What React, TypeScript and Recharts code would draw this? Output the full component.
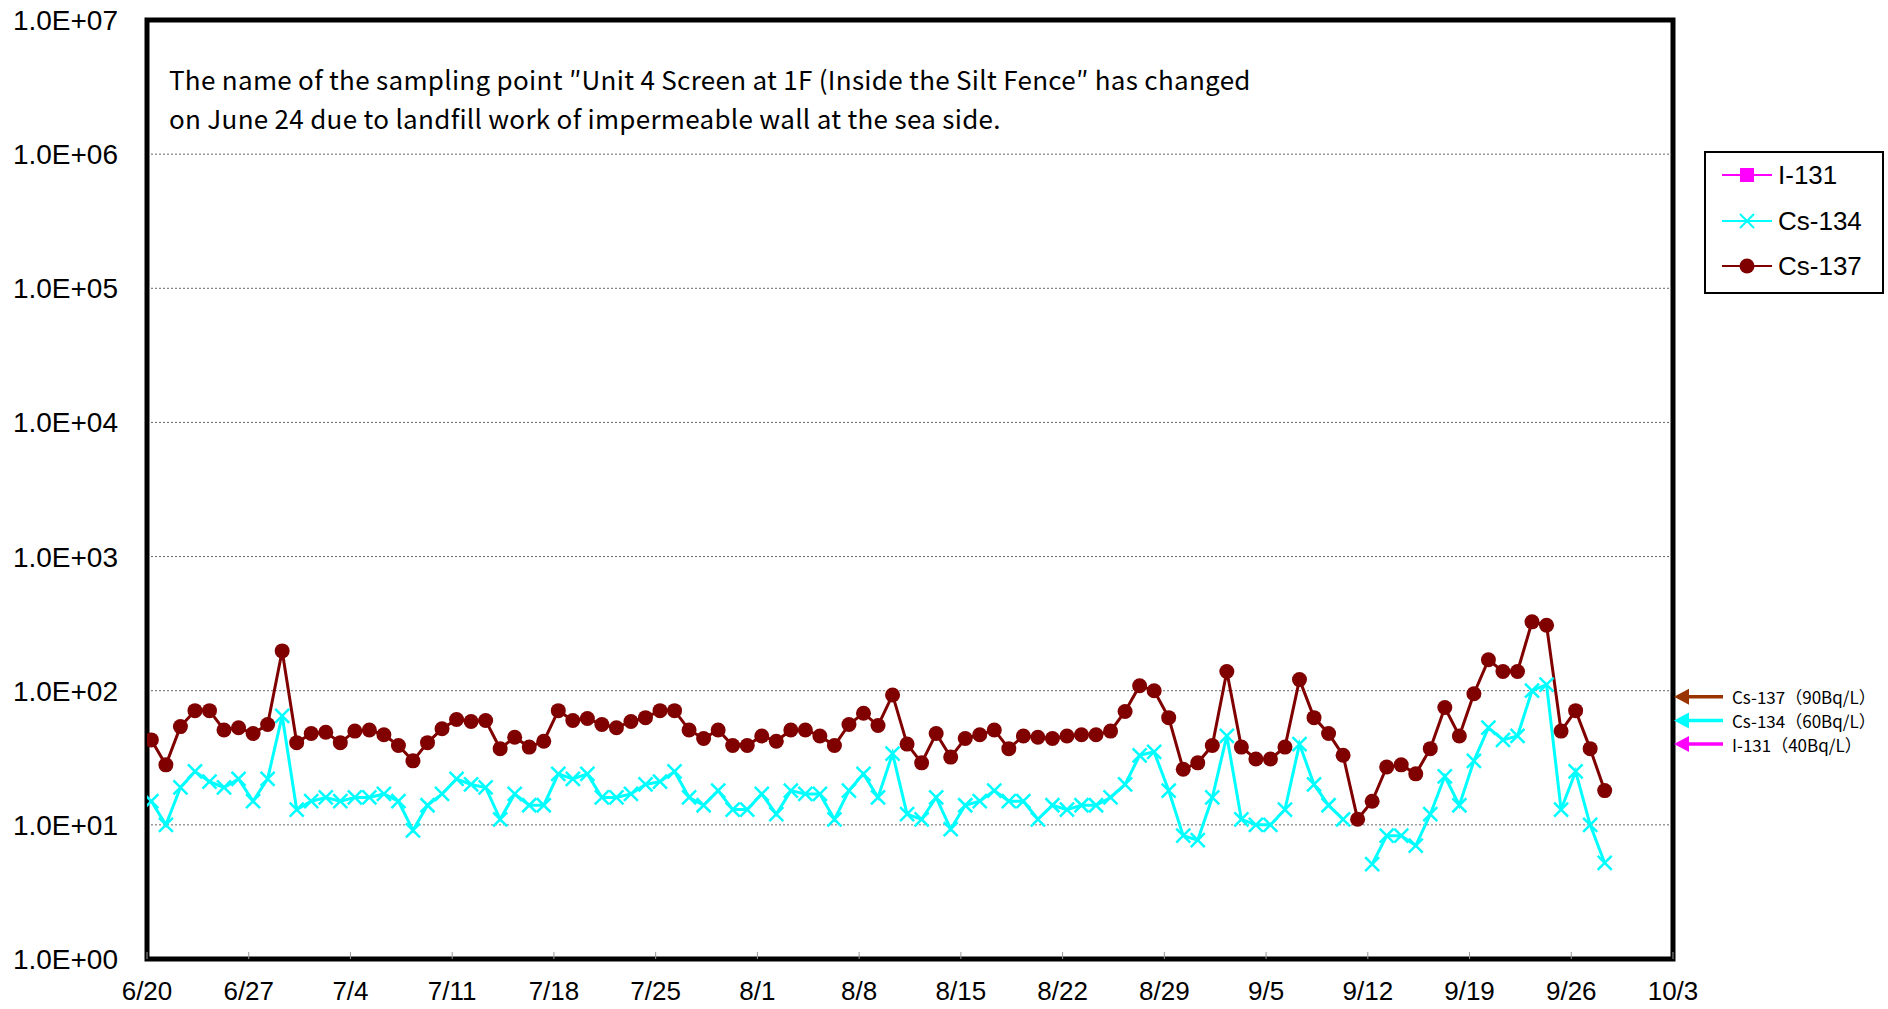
import React from "react";
import {
  LineChart,
  Line,
  XAxis,
  YAxis,
  CartesianGrid,
  ReferenceArea,
  ReferenceDot,
} from "recharts";

// daily samples from 6/20 (day 0), taken in the morning
const SAMPLE_OFFSET = 0.3;

const cs137 = [
  43, 28, 54, 71, 71, 51, 53, 48, 56, 198,
  41, 48, 49, 41, 50, 51, 47, 39, 30, 41,
  52, 61, 59, 60, 37, 45, 38, 42, 71, 60,
  62, 56, 53, 59, 63, 71, 71, 51, 44, 51,
  39, 39, 46, 42, 51, 51, 46, 39, 56, 68,
  55, 93, 40, 29, 48, 32, 44, 47, 51, 37,
  46, 45, 44, 46, 47, 47, 50, 70, 109, 100,
  63, 26, 29, 39, 139, 38, 31, 31, 38, 121,
  63, 48, 33, 11, 15, 27, 28, 24, 37, 75,
  46, 95, 170, 139, 139, 326, 308, 50, 71, 37,
  18,
];

const cs134: (number | null)[] = [
  15, 10, 19, 25, 21, 19, 22, 15, 22, 65,
  13, 15, 16, 15, 16, 16, 17, 15, 9.1, 14,
  17, 22, 20, 19, 11, 17, 14, 14, 24, 22,
  24, 16, 16, 17, 20, 21, 25, 16, 14, 18,
  13, 13, 17, 12, 18, 17, 17, 11, 18, 24,
  16, 34, 12, 11, 16, 9.3, 14, 15, 18, 15,
  15, 11, 14, 13, 14, 14, 16, 20, 33, 35,
  18, 8.3, 7.7, 16, 46, 11, 10, 10, 13, 40,
  20, 14, 11, null, 5.1, 8.3, 8.3, 7, 12, 23,
  14, 30, 53, 43, 46, 100, 111, 13, 25, 10,
  5.2,
];

// I-131 was not detected on any day
const i131: (number | null)[] = cs137.map(() => null);

const xTickDays = [0, 7, 14, 21, 28, 35, 42, 49, 56, 63, 70, 77, 84, 91, 98, 105];
const xTickLabels = [
  "6/20", "6/27", "7/4", "7/11", "7/18", "7/25", "8/1", "8/8",
  "8/15", "8/22", "8/29", "9/5", "9/12", "9/19", "9/26", "10/3",
];
const yTicks = [1, 10, 100, 1e3, 1e4, 1e5, 1e6, 1e7];

const limitNames = ["Cs-137", "Cs-134", "I-131"];
const limitValues = [90, 60, 40];
const limitColors = ["#993300", "#00FFFF", "#FF00FF"];

const data = cs137.map((v, i) => ({
  x: i + SAMPLE_OFFSET,
  i131: i131[i],
  cs134: cs134[i],
  cs137: v,
}));

const LABEL_FONT = "'Liberation Sans', Arial, sans-serif";
const JP_FONT = "'Noto Sans CJK JP', sans-serif";

const fmtY = (v: number) =>
  `1.0E+${String(Math.round(Math.log10(v))).padStart(2, "0")}`;
const fmtX = (v: number) => xTickLabels[xTickDays.indexOf(v)] ?? "";

function CircleDot(props: any) {
  const { cx, cy, index } = props;
  if (cx == null || cy == null) return <g key={index} />;
  return <circle key={index} cx={cx} cy={cy} r={7.5} fill="#800000" />;
}

function CrossDot(props: any) {
  const { cx, cy, index } = props;
  if (cx == null || cy == null) return <g key={index} />;
  const s = 7;
  return (
    <path
      key={index}
      d={`M${cx - s},${cy - s}L${cx + s},${cy + s}M${cx - s},${cy + s}L${cx + s},${cy - s}`}
      stroke="#00FFFF"
      strokeWidth={2.5}
      fill="none"
    />
  );
}

function LimitArrow(props: any) {
  const { cx, cy, color, name, value } = props;
  if (cx == null || cy == null) return <g />;
  return (
    <g>
      <path d={`M${cx + 1},${cy}L${cx + 16},${cy - 8}L${cx + 16},${cy + 8}Z`} fill={color} />
      <line x1={cx + 14} y1={cy} x2={cx + 50} y2={cy} stroke={color} strokeWidth={3.5} />
      <text
        x={cx + 59}
        y={cy}
        dominantBaseline="central"
        fontFamily={JP_FONT}
        fontSize={17}
        fill="#000"
      >
        {`${name}（${value}Bq/L）`}
      </text>
    </g>
  );
}

function LegendBox() {
  const rows = [
    { name: "I-131", color: "#FF00FF", y: 24 },
    { name: "Cs-134", color: "#00FFFF", y: 70 },
    { name: "Cs-137", color: "#800000", y: 115 },
  ];
  return (
    <svg
      width={180}
      height={143}
      style={{ position: "absolute", left: 1704, top: 151 }}
    >
      <rect x={1} y={1} width={178} height={141} fill="#fff" stroke="#000" strokeWidth={2} />
      {rows.map((r) => (
        <g key={r.name}>
          <line x1={18} x2={68} y1={r.y} y2={r.y} stroke={r.color} strokeWidth={2} />
          {r.name === "I-131" && (
            <rect x={36} y={r.y - 7} width={14} height={14} fill={r.color} />
          )}
          {r.name === "Cs-134" && (
            <path
              d={`M36,${r.y - 7}L50,${r.y + 7}M36,${r.y + 7}L50,${r.y - 7}`}
              stroke={r.color}
              strokeWidth={2}
            />
          )}
          {r.name === "Cs-137" && <circle cx={43} cy={r.y} r={7.5} fill={r.color} />}
          <text
            x={74}
            y={r.y}
            dominantBaseline="central"
            fontFamily={LABEL_FONT}
            fontSize={26}
            fill="#000"
          >
            {r.name}
          </text>
        </g>
      ))}
    </svg>
  );
}

export default function App() {
  return (
    <div
      style={{
        position: "absolute",
        left: 0,
        top: 0,
        width: 1888,
        height: 1009,
        background: "#fff",
      }}
    >
      <LineChart
        width={1888}
        height={1009}
        data={data}
        margin={{ top: 20, right: 215, bottom: 0, left: 0 }}
      >
        <CartesianGrid
          vertical={false}
          stroke="#666"
          strokeDasharray="2 2"
          strokeWidth={1}
        />
        <XAxis
          dataKey="x"
          type="number"
          domain={[0, 105]}
          ticks={xTickDays}
          tickFormatter={fmtX}
          height={50}
          axisLine={false}
          tickLine={{ stroke: "#999" }}
          tickSize={-7}
          tickMargin={30}
          tick={{ fill: "#000", fontSize: 26, fontFamily: LABEL_FONT }}
          allowDataOverflow
        />
        <YAxis
          type="number"
          scale="log"
          domain={[1, 1e7]}
          ticks={yTicks}
          tickFormatter={fmtY}
          width={147}
          axisLine={false}
          tickLine={false}
          tickSize={0}
          tickMargin={29}
          tick={{ fill: "#000", fontSize: 28, fontFamily: LABEL_FONT }}
          allowDataOverflow
        />
        <ReferenceArea
          x1={0}
          x2={105}
          y1={1}
          y2={1e7}
          fill="none"
          stroke="#000"
          strokeWidth={5}
          ifOverflow="visible"
        />
        {limitNames.map((n, i) => (
          <ReferenceDot
            key={n}
            x={105}
            y={limitValues[i]}
            ifOverflow="visible"
            shape={(p: any) => (
              <LimitArrow {...p} color={limitColors[i]} name={n} value={limitValues[i]} />
            )}
          />
        ))}
        <Line
          dataKey="i131"
          stroke="#FF00FF"
          strokeWidth={2}
          dot={false}
          isAnimationActive={false}
        />
        <Line
          dataKey="cs134"
          stroke="#00FFFF"
          strokeWidth={3}
          dot={CrossDot}
          activeDot={false}
          connectNulls={false}
          isAnimationActive={false}
        />
        <Line
          dataKey="cs137"
          stroke="#800000"
          strokeWidth={3}
          dot={CircleDot}
          activeDot={false}
          isAnimationActive={false}
        />
      </LineChart>
      <div
        style={{
          position: "absolute",
          left: 169,
          top: 59,
          fontFamily: JP_FONT,
          fontSize: 26,
          letterSpacing: 0.3,
          lineHeight: "39px",
          color: "#000",
          whiteSpace: "nowrap",
        }}
      >
        The name of the sampling point ″Unit 4 Screen at 1F (Inside the Silt Fence″ has changed
        <br />
        on June 24 due to landfill work of impermeable wall at the sea side.
      </div>
      <LegendBox />
    </div>
  );
}
